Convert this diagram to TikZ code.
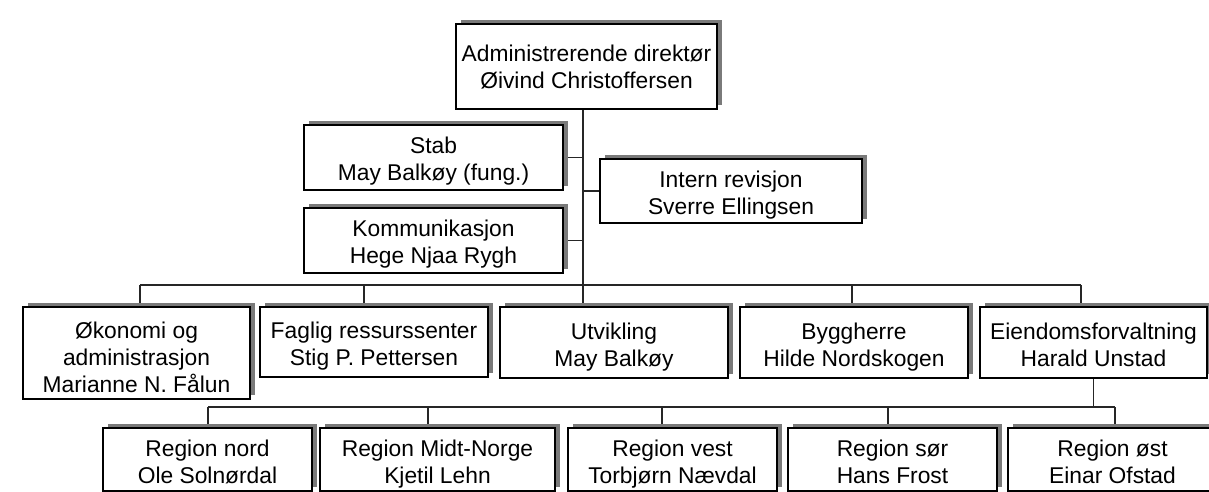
\documentclass[tikz,border=0pt]{standalone}
\usepackage{fontspec}
\setmainfont{Liberation Sans}
\usetikzlibrary{shadows,fit,calc}
\pgfdeclarelayer{background}
\pgfsetlayers{background,main}

\tikzset{
  orgbox/.style={draw=black, line width=1.6pt, fill=white, inner sep=0pt,
    drop shadow={shadow xshift=5pt, shadow yshift=4pt, fill=black!52, opacity=1}},
  orglabel/.style={align=center, inner sep=0pt,
    font=\fontsize{22.8}{27}\selectfont,
    execute at begin node=\strut, execute at end node=\strut},
  link/.style={line width=1.5pt, draw=black!85},
}

% #1 name, #2/#3 top-left corner, #4/#5 bottom-right corner,
% #6 vertical offset of the caption, #7 caption
\newcommand\orgunit[7]{%
  \coordinate (#1-nw) at (#2,#3);
  \coordinate (#1-se) at (#4,#5);
  \node[orgbox, fit=(#1-nw)(#1-se)] (#1) {};
  \node[orglabel] (#1-t) at ($(#1.center)+(0,#6)$) {#7};
}

\begin{document}
\begin{tikzpicture}[x=1pt, y=-1pt]
  \useasboundingbox (0,0) rectangle (1209,492);
  \clip (0,0) rectangle (1209,492);

  % management
  \orgunit{adm}{456}{24}{717}{109}{4}{Administrerende direktør\\Øivind Christoffersen}
  \orgunit{stab}{304}{125}{563}{190}{5.5}{Stab\\May Balkøy (fung.)}
  \orgunit{komm}{304}{208}{563}{273}{5.5}{Kommunikasjon\\Hege Njaa Rygh}
  \orgunit{intern}{600}{159}{862}{223}{5.5}{Intern revisjon\\Sverre Ellingsen}

  % divisions
  \orgunit{okon}{23}{307}{250}{399}{8}{Økonomi og\\administrasjon\\Marianne N. Fålun}
  \orgunit{faglig}{260}{307}{488}{377}{6}{Faglig ressurssenter\\Stig P. Pettersen}
  \orgunit{utv}{500}{307}{728}{378}{6}{Utvikling\\May Balkøy}
  \orgunit{bygg}{740}{307}{968}{378}{6}{Byggherre\\Hilde Nordskogen}
  \orgunit{eiend}{980}{307}{1207}{378}{6}{Eiendomsforvaltning\\Harald Unstad}

  % regions
  \orgunit{nord}{103}{428}{312}{491}{6.5}{Region nord\\Ole Solnørdal}
  \orgunit{midt}{320}{428}{555}{491}{6.5}{Region Midt-Norge\\Kjetil Lehn}
  \orgunit{vest}{568}{428}{777}{491}{6.5}{Region vest\\Torbjørn Nævdal}
  \orgunit{sor}{788}{428}{997}{491}{6.5}{Region sør\\Hans Frost}
  \orgunit{ost}{1008}{428}{1217}{491}{6.5}{Region øst\\Einar Ofstad}

  % branch points on the two horizontal buses
  \coordinate (trunk) at (583,285);
  \coordinate (okon-in) at (140,285);
  \coordinate (faglig-in) at (364,285);
  \coordinate (bygg-in) at (852,285);
  \coordinate (eiend-in) at (1081,285);
  \coordinate (nord-in) at (208,407);
  \coordinate (midt-in) at (428,407);
  \coordinate (vest-in) at (662,407);
  \coordinate (sor-in) at (888,407);
  \coordinate (ost-in) at (1115,407);

  \begin{pgfonlayer}{background}
    \fill[white] (0,0) rectangle (1209,492);
    % trunk and staff branches
    \draw[link] (adm.south -| trunk) -- (utv.north -| trunk);
    \draw[link] (stab.east) -- (stab.east -| trunk);
    \draw[link] (komm.east) -- (komm.east -| trunk);
    \draw[link] (intern.west -| trunk) -- (intern.west);
    % division bus
    \draw[link] (okon-in) -- (eiend-in);
    \draw[link] (okon-in) -- (okon-in |- okon.north);
    \draw[link] (faglig-in) -- (faglig-in |- faglig.north);
    \draw[link] (bygg-in) -- (bygg-in |- bygg.north);
    \draw[link] (eiend-in) -- (eiend-in |- eiend.north);
    % region bus
    \draw[link] (eiend.south) -- (eiend.south |- ost-in);
    \draw[link] (nord-in) -- (ost-in);
    \draw[link] (nord-in) -- (nord-in |- nord.north);
    \draw[link] (midt-in) -- (midt-in |- midt.north);
    \draw[link] (vest-in) -- (vest-in |- vest.north);
    \draw[link] (sor-in) -- (sor-in |- sor.north);
    \draw[link] (ost-in) -- (ost-in |- ost.north);
  \end{pgfonlayer}
\end{tikzpicture}
\end{document}
